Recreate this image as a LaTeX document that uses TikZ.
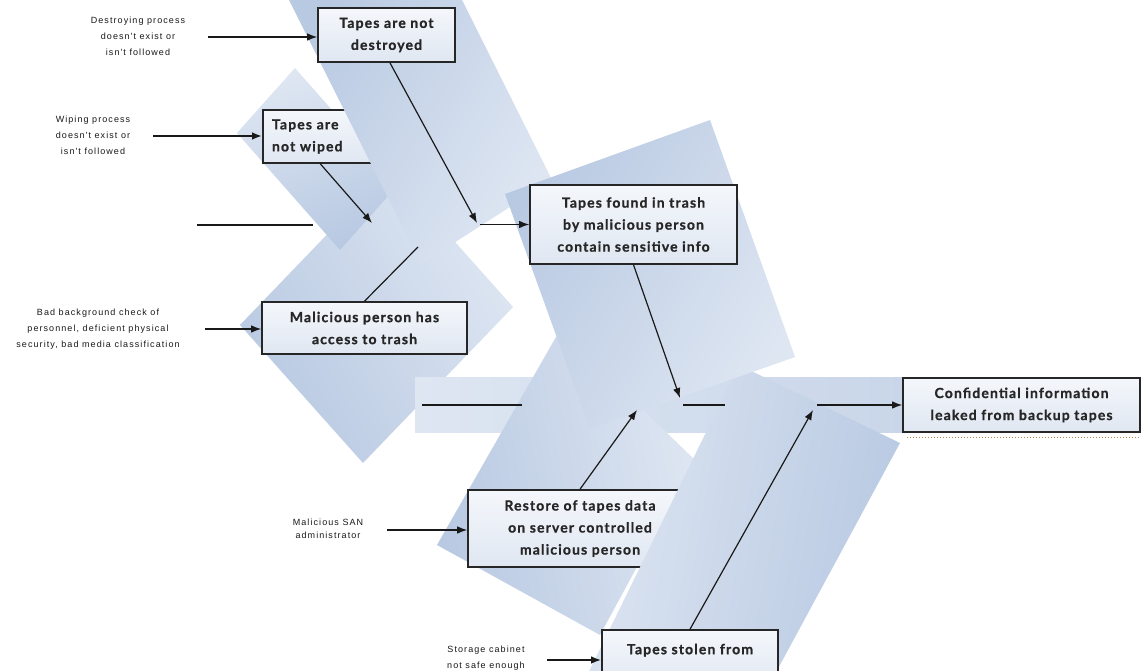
\documentclass[tikz,border=0pt]{standalone}
\usepackage{fontspec}
\setmainfont{Liberation Sans}
\newfontfamily\boxfont{Lato}[LetterSpace=8, BoldFeatures={FakeBold=0.8}]
\newfontfamily\labfont[LetterSpace=12]{Liberation Sans}
\usetikzlibrary{arrows.meta,calc}
\definecolor{bdark}{HTML}{B8C9E2}
\definecolor{bmid}{HTML}{C9D6E9}
\definecolor{blight}{HTML}{DEE6F2}
\definecolor{boxtop}{HTML}{F4F7FB}
\definecolor{boxbot}{HTML}{E0E7F2}
\definecolor{edgec}{HTML}{262626}
\definecolor{shadowc}{HTML}{B8864A}
\begin{document}
\begin{tikzpicture}[x=1pt,y=-1pt,
  cause/.style={draw=edgec, line width=1.6pt, top color=boxtop, bottom color=boxbot,
    font={\boxfont\bfseries\fontsize{14}{22}\selectfont}, text=black!85, align=center, inner sep=0pt},
  lab/.style={font={\labfont\fontsize{9}{16}\selectfont}, text=black!90, align=center, inner sep=0pt},
  con/.style={draw=black!90, line width=1.2pt, -{Latex[length=10pt,width=7.5pt]}},
  bare/.style={draw=black!90, line width=1.2pt},
]
\useasboundingbox (0,0) rectangle (1143,671);
\clip (0,0) rectangle (1143,671);
\fill[white] (0,0) rectangle (1143,671);

% background shapes
\shade[left color=bdark, right color=blight, shading angle=120]
  (240,325) -- (390,169) -- (513,307) -- (363,463) -- cycle;
\shade[top color=blight, bottom color=bdark, shading angle=20]
  (237,133) -- (295,68) -- (398,185) -- (340,250) -- cycle;

% wiped box (partly covered)
\node[cause, align=left, text width=104pt, minimum width=122pt, minimum height=53pt] (W) at (324,136.5) {Tapes are\\not wiped};

\shade[left color=bdark, right color=blight, shading angle=60]
  (279,-20) -- (452,-20) -- (552,180) -- (421,264) -- cycle;
\shade[left color=blight, right color=bmid]
  (415,377) rectangle (905,432);
\shade[left color=bdark, right color=blight, shading angle=100]
  (560,330) -- (695,460) -- (600,635) -- (437,545) -- cycle;

\node[cause, minimum width=224pt, minimum height=77pt] (R) at (580,528.5) {Restore of tapes data\\on server controlled\\malicious person};

\shade[left color=blight, right color=bdark, shading angle=80]
  (739,365) -- (900,443) -- (761,700) -- (575,700) -- cycle;
\shade[left color=bdark, right color=blight, shading angle=60]
  (505,194) -- (710,120) -- (795,357) -- (590,429) -- cycle;

% cause boxes
\node[cause, minimum width=137pt, minimum height=54pt] (D) at (386.5,35) {Tapes are not\\destroyed};
\node[cause, minimum width=205pt, minimum height=52pt] (M) at (364.5,328) {Malicious person has\\access to trash};
\node[cause, minimum width=207pt, minimum height=79pt] (T) at (633.5,224.5) {Tapes found in trash\\by malicious person\\contain sensitive info};
\node[cause, minimum width=237pt, minimum height=54pt] (C) at (1021.5,405) {Confidential information\\leaked from backup tapes};
\node[cause, minimum width=176pt, minimum height=60pt] (S) at (690,660) {Tapes stolen from\\\mbox{}};

\draw[shadowc, line width=1.2pt, dash pattern=on 1pt off 2pt] ([xshift=5pt,yshift=-5pt]C.south west) -- ([yshift=-5pt]C.south east);

% labels
\node[lab] (Ld) at (138,36) {Destroying process\\doesn't exist or\\isn't followed};
\node[lab] (Lw) at (93,135) {Wiping process\\doesn't exist or\\isn't followed};
\node[lab] (Lm) at (98,329) {Bad background check of\\personnel, deficient physical\\security, bad media classification};
\node[lab, font={\labfont\fontsize{9}{13}\selectfont}] (Lsan) at (328,528.5) {Malicious SAN\\administrator};
\node[lab] (Lst) at (486,658) {Storage cabinet\\not safe enough};

% free ends
\coordinate (dls) at (208,37);
\coordinate (wls) at (153,136);
\coordinate (ml1) at (197,225);
\coordinate (ml2) at (313,225);
\coordinate (wend) at (372,223);
\coordinate (dend) at (477,223);
\coordinate (jf) at (480,224.5);
\coordinate (mls) at (205,329);
\coordinate (mtop) at (418,247);
\coordinate (fend) at (680,398);
\coordinate (s1) at (422,405);
\coordinate (s2) at (522,405);
\coordinate (s3) at (683,405);
\coordinate (s4) at (725,405);
\coordinate (s5) at (817,405);
\coordinate (rend) at (637,410);
\coordinate (send) at (813,410);
\coordinate (sanl) at (387,530);
\coordinate (stl) at (547,660);

% connectors
\draw[con] (dls) -- (dls -| D.west);
\draw[con, line width=2pt] (wls) -- (wls -| W.west);
\draw[bare] (ml1) -- (ml2);
\draw[con] ($(W.south west)!0.47!(W.south east)$) -- (wend);
\draw[con] ($(D.south west)!0.525!(D.south east)$) -- (dend);
\draw[con] (jf) -- (T.west);
\draw[con] (mls) -- (mls -| M.west);
\draw[bare] (M.north) -- (mtop);
\draw[con] (T.south) -- (fend);
\draw[bare] (s1) -- (s2);
\draw[bare] (s3) -- (s4);
\draw[con] (s5) -- (C.west);
\draw[con] (R.north) -- (rend);
\draw[con] (S.north) -- (send);
\draw[con] (sanl) -- (sanl -| R.west);
\draw[con, line width=1.6pt] (stl) -- (stl -| S.west);
\end{tikzpicture}
\end{document}
